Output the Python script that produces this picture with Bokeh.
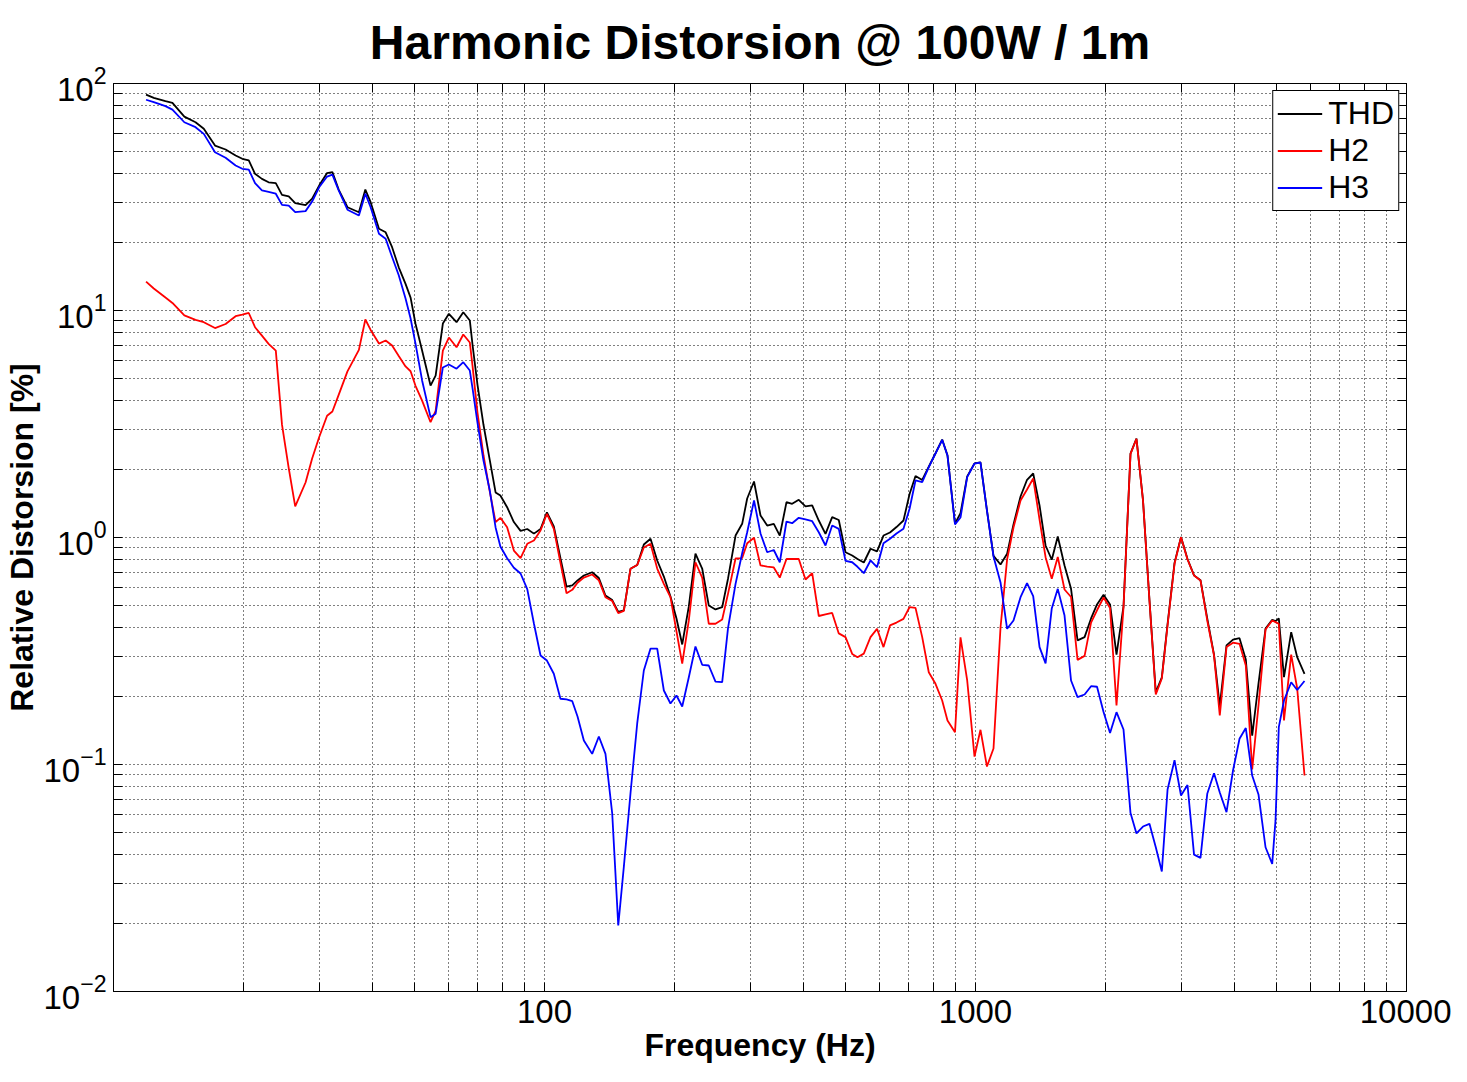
from bokeh.plotting import figure
from bokeh.models import (LogAxis, FixedTicker, NumeralTickFormatter, Legend,
                          LegendItem, Range1d, CustomJSTickFormatter)
from bokeh.embed import file_html
from bokeh.resources import INLINE

# ---------------- data ----------------
freq = [11.9, 12.4, 13.2, 13.7, 14.6, 15.5, 16.2, 17.2, 18.2, 19.2,
        19.9, 20.6, 21.3, 22.1, 22.9, 23.8, 24.6, 25.5, 26.4, 27.9,
        28.9, 30.0, 31.3, 32.2, 33.3, 34.9, 37.1, 38.4, 39.5, 41.3,
        42.8, 44.3, 45.9, 47.6, 48.9, 50.2, 52.0, 54.4, 55.9, 58.1,
        60.0, 62.5, 64.8, 67.1, 68.1, 69.9, 72.2, 74.6, 77.0, 79.0,
        81.9, 84.9, 88.0, 91.2, 94.5, 97.9, 101.3, 105.1, 108.9, 112.5,
        116.0, 119.3, 123.4, 129.0, 133.7, 138.5, 143.6, 148.3, 152.8, 158.3,
        164.1, 170.0, 176.2, 182.6, 189.2, 196.0, 202.4, 208.7, 216.2, 224.0,
        232.2, 240.5, 249.3, 258.4, 266.6, 277.5, 287.5, 295.3, 306.3, 317.1,
        328.6, 340.4, 351.5, 364.3, 375.5, 389.0, 403.2, 417.9, 432.9, 448.7,
        465.0, 481.7, 499.3, 517.5, 532.4, 550.6, 570.7, 590.9, 611.7, 633.3,
        655.7, 680.6, 702.9, 725.8, 752.2, 779.1, 807.6, 836.9, 861.0, 896.3,
        923.0, 956.6, 994.7, 1027, 1063, 1101, 1143, 1184, 1225, 1272,
        1317, 1361, 1408, 1454, 1503, 1552, 1609, 1666, 1725, 1791,
        1854, 1914, 1982, 2052, 2124, 2205, 2289, 2363, 2447, 2533,
        2620, 2706, 2790, 2896, 2998, 3104, 3214, 3327, 3449, 3576,
        3688, 3823, 3958, 4098, 4238, 4385, 4535, 4709, 4880, 4967,
        5055, 5197, 5401, 5577, 5799]

thd = [89.4, 86.5, 83.6, 82.2, 71.5, 67.5, 63.2, 53.3, 51.2, 48.2,
       46.6, 45.8, 40.0, 38.0, 36.7, 36.4, 32.3, 31.8, 29.7, 29.1,
       31.1, 35.5, 40.3, 40.7, 34.1, 28.5, 27.1, 34.1, 30.0, 22.9,
       22.1, 19.0, 15.5, 13.1, 11.4, 8.74, 6.66, 4.67, 5.17, 8.76,
       9.67, 8.88, 9.83, 9.04, 7.03, 4.72, 3.13, 2.21, 1.58, 1.53,
       1.36, 1.17, 1.07, 1.09, 1.04, 1.09, 1.29, 1.12, 0.810, 0.607,
       0.615, 0.647, 0.680, 0.703, 0.663, 0.555, 0.530, 0.470, 0.477, 0.728,
       0.757, 0.931, 0.987, 0.792, 0.673, 0.55, 0.440, 0.338, 0.497, 0.850,
       0.730, 0.502, 0.482, 0.493, 0.66, 1.02, 1.149, 1.485, 1.765, 1.250,
       1.129, 1.149, 1.02, 1.431, 1.408, 1.466, 1.370, 1.384, 1.188, 1.038,
       1.229, 1.194, 0.861, 0.833, 0.804, 0.776, 0.892, 0.868, 1.02, 1.052,
       1.112, 1.188, 1.55, 1.866, 1.792, 2.05, 2.35, 2.70, 2.30, 1.15,
       1.28, 1.86, 2.12, 2.145, 1.32, 0.83, 0.760, 0.848, 1.141, 1.516,
       1.796, 1.914, 1.384, 0.922, 0.798, 1.010, 0.753, 0.594, 0.352, 0.364,
       0.440, 0.507, 0.559, 0.507, 0.305, 0.497, 2.34, 2.73, 1.46, 0.53,
       0.208, 0.242, 0.415, 0.773, 1.006, 0.804, 0.681, 0.648, 0.44, 0.305,
       0.181, 0.335, 0.355, 0.360, 0.29, 0.134, 0.2274, 0.397, 0.434, 0.428,
       0.44, 0.2424, 0.3827, 0.297, 0.251]

h2 = [13.4, 12.5, 11.4, 10.8, 9.51, 9.09, 8.88, 8.37, 8.72, 9.44,
      9.59, 9.75, 8.44, 7.75, 7.13, 6.66, 3.14, 2.02, 1.37, 1.747,
      2.228, 2.766, 3.44, 3.59, 4.25, 5.39, 6.71, 9.13, 8.21, 7.15,
      7.38, 7.01, 6.30, 5.67, 5.40, 4.66, 4.01, 3.22, 3.61, 6.66,
      7.60, 6.89, 7.84, 7.23, 5.67, 3.55, 2.297, 1.604, 1.168, 1.221,
      1.110, 0.876, 0.812, 0.938, 0.970, 1.074, 1.272, 1.092, 0.774, 0.568,
      0.588, 0.632, 0.666, 0.687, 0.647, 0.546, 0.525, 0.464, 0.475, 0.728,
      0.756, 0.904, 0.938, 0.730, 0.625, 0.546, 0.386, 0.278, 0.431, 0.778,
      0.666, 0.417, 0.417, 0.435, 0.566, 0.808, 0.812, 0.944, 0.997, 0.753,
      0.745, 0.738, 0.666, 0.804, 0.804, 0.804, 0.653, 0.696, 0.451, 0.458,
      0.465, 0.378, 0.364, 0.307, 0.297, 0.308, 0.364, 0.396, 0.329, 0.410,
      0.422, 0.438, 0.493, 0.490, 0.364, 0.255, 0.2267, 0.1914, 0.1563, 0.1388,
      0.363, 0.2345, 0.1084, 0.1422, 0.0980, 0.1176, 0.4015, 0.802, 1.107, 1.456,
      1.627, 1.819, 1.200, 0.819, 0.658, 0.821, 0.590, 0.547, 0.289, 0.301,
      0.422, 0.478, 0.544, 0.489, 0.182, 0.492, 2.337, 2.722, 1.456, 0.528,
      0.2034, 0.2392, 0.4096, 0.766, 1.003, 0.800, 0.680, 0.647, 0.431, 0.302,
      0.1644, 0.329, 0.344, 0.340, 0.273, 0.0951, 0.182, 0.393, 0.431, 0.424,
      0.417, 0.1563, 0.305, 0.2162, 0.0894]

h3 = [84.8, 82.7, 79.5, 76.7, 67.5, 64.2, 60.0, 49.8, 47.1, 43.5,
      42.1, 41.7, 36.4, 33.8, 33.3, 32.7, 29.2, 29.0, 27.1, 27.4,
      30.2, 34.9, 38.9, 39.7, 33.8, 27.8, 26.2, 32.7, 28.5, 21.8,
      20.7, 17.2, 14.3, 11.3, 9.22, 7.15, 4.92, 3.39, 3.51, 5.61,
      5.78, 5.54, 5.92, 5.44, 4.53, 3.21, 2.177, 1.624, 1.107, 0.913,
      0.810, 0.736, 0.694, 0.592, 0.418, 0.302, 0.287, 0.251, 0.1948, 0.1934,
      0.1901, 0.1628, 0.1276, 0.1114, 0.1328, 0.1114, 0.0607, 0.01953, 0.0355, 0.0745,
      0.1516, 0.2595, 0.324, 0.324, 0.2118, 0.1857, 0.2014, 0.1801, 0.2424, 0.331,
      0.275, 0.273, 0.2320, 0.2304, 0.40, 0.625, 0.852, 1.055, 1.456, 1.041,
      0.861, 0.881, 0.778, 1.176, 1.156, 1.221, 1.203, 1.180, 1.055, 0.922,
      1.129, 1.092, 0.789, 0.778, 0.743, 0.696, 0.792, 0.740, 0.944, 0.988,
      1.041, 1.092, 1.335, 1.783, 1.752, 2.040, 2.344, 2.694, 2.297, 1.141,
      1.225, 1.844, 2.118, 2.140, 1.315, 0.825, 0.634, 0.396, 0.431, 0.546,
      0.629, 0.552, 0.329, 0.279, 0.487, 0.594, 0.453, 0.2345, 0.1980, 0.2034,
      0.2213, 0.2200, 0.1703, 0.1376, 0.1700, 0.1426, 0.0611, 0.0497, 0.0533, 0.0548,
      0.0432, 0.0338, 0.0776, 0.1044, 0.0730, 0.0812, 0.0401, 0.0388, 0.0743, 0.0915,
      0.0753, 0.0617, 0.0941, 0.1298, 0.1448, 0.0894, 0.0738, 0.0432, 0.0365, 0.0567,
      0.1460, 0.1914, 0.2304, 0.2130, 0.2332]

x_major = [100, 1000, 10000]
x_minor = [m * d for d in (10, 100, 1000) for m in range(2, 10)]
y_major = [0.01, 0.1, 1, 10, 100]
y_minor = [m * d for d in (0.01, 0.1, 1, 10) for m in range(2, 10)]

series_names = ["THD", "H2", "H3"]
series_colors = ["#000000", "#ff0000", "#0000ff"]

FONT = "Liberation Sans"

# ---------------- figure ----------------
p = figure(width=1451, height=1066,
           x_axis_type="log", y_axis_type="log",
           x_range=Range1d(10, 10000), y_range=Range1d(0.01, 100),
           output_backend="svg", toolbar_location=None,
           min_border_left=113, min_border_right=45,
           min_border_top=83, min_border_bottom=75,
           title="Harmonic Distorsion @ 100W / 1m")

p.title.text_font = FONT
p.title.text_font_size = "48px"
p.title.text_font_style = "bold"
p.title.text_color = "black"
p.title.align = "center"
p.title.standoff = 20

p.background_fill_color = "white"
p.border_fill_color = "white"
p.outline_line_color = "black"
p.outline_line_width = 1
p.outline_line_alpha = 1

xt = FixedTicker(ticks=x_major, minor_ticks=x_minor)
yt = FixedTicker(ticks=y_major, minor_ticks=y_minor)

p.xaxis.ticker = xt
p.yaxis.ticker = yt
p.xaxis.formatter = NumeralTickFormatter(format="0")
p.xaxis.axis_label = "Frequency (Hz)"
p.yaxis.axis_label = "Relative Distorsion [%]"


def style_axis(ax):
    ax.axis_line_color = "black"
    ax.major_tick_line_color = "black"
    ax.minor_tick_line_color = "black"
    ax.major_tick_in = 9
    ax.major_tick_out = 0
    ax.minor_tick_in = 9
    ax.minor_tick_out = 0
    ax.major_label_text_font = FONT
    ax.major_label_text_color = "black"
    ax.major_label_text_font_size = "33px"
    ax.axis_label_text_font = FONT
    ax.axis_label_text_font_size = "32px"
    ax.axis_label_text_font_style = "bold"
    ax.axis_label_text_color = "black"


for ax in p.xaxis:
    style_axis(ax)
    ax.major_label_standoff = 8
    ax.axis_label_standoff = 1
for ax in p.yaxis:
    style_axis(ax)
    ax.major_label_standoff = 7
    ax.axis_label_standoff = 0

blank = CustomJSTickFormatter(code="return ' ';")
top_axis = LogAxis(ticker=xt, formatter=blank)
style_axis(top_axis)
top_axis.major_label_text_font_size = "2px"
top_axis.major_label_standoff = 0
p.add_layout(top_axis, "above")
right_axis = LogAxis(ticker=yt, formatter=blank)
style_axis(right_axis)
right_axis.major_label_text_font_size = "2px"
right_axis.major_label_standoff = 0
p.add_layout(right_axis, "right")

p.xgrid.ticker = xt
p.ygrid.ticker = yt
for g in (p.xgrid[0], p.ygrid[0]):
    g.grid_line_color = "black"
    g.grid_line_dash = "1 3"
    g.grid_line_width = 1
    g.grid_line_alpha = 1
    g.minor_grid_line_color = "black"
    g.minor_grid_line_dash = "1 3"
    g.minor_grid_line_width = 1
    g.minor_grid_line_alpha = 1

renderers = []
for vals, col in zip((thd, h2, h3), series_colors):
    r = p.line(freq, vals, line_color=col, line_width=1.8)
    renderers.append(r)

legend = Legend(items=[LegendItem(label=n, renderers=[r])
                       for n, r in zip(series_names, renderers)],
                location="top_right")
legend.label_text_font = FONT
legend.label_text_font_size = "32px"
legend.label_text_color = "black"
legend.glyph_width = 45
legend.glyph_height = 37
legend.label_height = 37
legend.label_standoff = 6
legend.spacing = 0
legend.padding = 4
legend.margin = 7
legend.border_line_color = "black"
legend.border_line_width = 1
legend.border_line_alpha = 1
legend.background_fill_color = "white"
legend.background_fill_alpha = 1
p.add_layout(legend)

open("out.html", "w").write(file_html(p, INLINE))
